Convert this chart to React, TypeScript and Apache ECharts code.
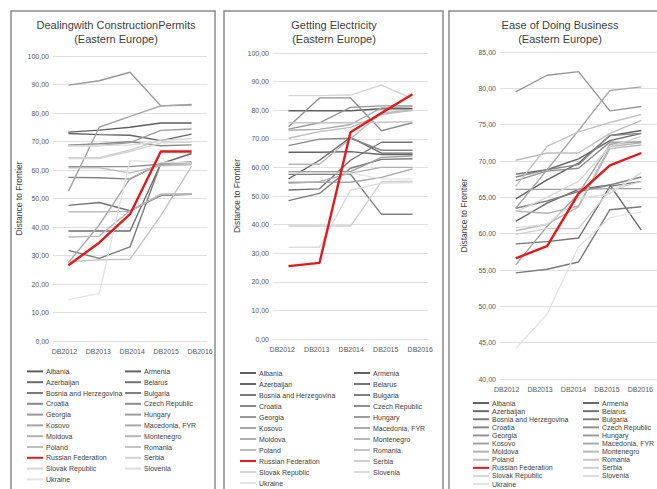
import React, { useEffect, useRef } from "react";
import * as echarts from "echarts";

const categories = ["DB2012", "DB2013", "DB2014", "DB2015", "DB2016"];

const countries = [
  "Albania", "Armenia", "Azerbaijan", "Belarus", "Bosnia and Herzegovina", "Bulgaria",
  "Croatia", "Czech Republic", "Georgia", "Hungary", "Kosovo", "Macedonia, FYR",
  "Moldova", "Montenegro", "Poland", "Romania", "Russian Federation", "Serbia",
  "Slovak Republic", "Slovenia", "Ukraine",
];

const panelTitles = [
  "Dealingwith ConstructionPermits\n(Eastern Europe)",
  "Getting Electricity\n(Eastern Europe)",
  "Ease of Doing Business\n(Eastern Europe)",
];

const yAxisName = "Distance to Frontier";

// Dealing with Construction Permits, one row per country (same order as countries)
const constructionPermits: number[][] = [
  [73.3, 74.0, 75.0, 76.5, 76.5],
  [72.8, 72.4, 72.2, 70.3, 72.6],
  [38.6, 38.6, 38.6, 62.2, 65.8],
  [47.6, 48.6, 45.7, 51.0, 51.5],
  [31.8, 29.0, 33.0, 62.3, 62.8],
  [57.4, 57.3, 56.8, 62.3, 62.5],
  [68.7, 69.2, 69.9, 68.5, 68.8],
  [61.2, 61.2, 61.2, 62.0, 62.3],
  [89.8, 91.3, 94.3, 82.5, 82.8],
  [68.6, 68.6, 69.6, 73.9, 74.4],
  [52.5, 75.0, 78.8, 82.5, 83.0],
  [27.5, 40.7, 57.0, 62.3, 62.5],
  [45.3, 45.3, 45.5, 51.5, 51.7],
  [36.5, 36.8, 45.8, 51.3, 51.6],
  [60.8, 60.8, 59.0, 61.5, 61.8],
  [27.8, 28.5, 28.7, 44.0, 61.4],
  [26.6, 34.5, 44.5, 66.5, 66.5],
  [64.3, 64.3, 67.0, 70.5, 71.0],
  [64.0, 64.0, 66.5, 69.5, 69.8],
  [68.4, 68.6, 68.8, 70.0, 70.0],
  [14.5, 16.7, 63.3, 62.8, 62.5],
];

// Getting Electricity
const gettingElectricity: number[][] = [
  [79.8, 79.8, 79.8, 80.5, 80.5],
  [65.3, 65.3, 65.5, 64.5, 64.5],
  [56.0, 62.5, 70.5, 65.0, 65.0],
  [52.1, 52.5, 62.5, 68.8, 68.8],
  [48.4, 50.9, 59.7, 62.8, 63.0],
  [57.6, 57.6, 57.6, 43.6, 43.6],
  [67.6, 69.9, 70.2, 66.0, 66.0],
  [74.2, 84.3, 84.3, 72.8, 75.6],
  [73.4, 75.6, 81.0, 81.5, 81.5],
  [58.5, 58.5, 58.5, 63.5, 64.0],
  [54.8, 54.8, 54.8, 56.5, 59.5],
  [73.0, 73.3, 75.0, 80.8, 81.2],
  [54.4, 55.0, 58.0, 60.0, 60.0],
  [61.1, 61.1, 70.0, 79.0, 80.0],
  [70.2, 72.5, 74.0, 78.5, 80.0],
  [75.6, 75.6, 75.6, 75.8, 76.0],
  [25.5, 26.6, 72.3, 79.0, 85.6],
  [39.5, 39.5, 39.5, 55.0, 55.2],
  [85.1, 85.1, 85.3, 88.8, 84.0],
  [32.1, 32.1, 52.0, 54.5, 54.7],
  [58.0, 58.0, 58.0, 56.0, 56.0],
];

// Ease of Doing Business
const easeOfDoingBusiness: number[][] = [
  [64.8, 67.4, 69.7, 73.5, 74.2],
  [68.2, 68.8, 70.3, 72.8, 73.8],
  [61.7, 64.2, 66.1, 66.7, 60.5],
  [58.6, 58.9, 59.4, 66.5, 67.2],
  [54.6, 55.1, 56.1, 63.3, 63.7],
  [63.5, 64.5, 65.8, 66.7, 67.8],
  [67.8, 68.8, 69.5, 73.5, 73.8],
  [67.3, 68.6, 69.0, 72.6, 72.6],
  [79.5, 81.8, 82.3, 76.9, 77.5],
  [66.1, 66.1, 66.1, 66.2, 66.2],
  [55.7, 61.0, 65.5, 72.3, 72.7],
  [63.5, 68.8, 74.2, 79.7, 80.2],
  [63.1, 62.8, 63.8, 72.0, 72.5],
  [60.4, 61.3, 63.7, 71.7, 72.2],
  [70.1, 71.1, 71.1, 73.8, 75.6],
  [66.5, 72.0, 74.0, 75.3, 76.4],
  [56.6, 58.3, 65.5, 69.4, 71.1],
  [59.9, 60.7, 60.7, 66.0, 67.2],
  [63.0, 65.0, 67.2, 72.0, 73.4],
  [60.8, 61.3, 64.8, 65.5, 68.4],
  [44.2, 48.9, 58.2, 62.2, 63.0],
];

const lineColors = [
  "#5f5f5f", "#656565", "#6b6b6b", "#737373", "#7a7a7a", "#818181",
  "#888888", "#8f8f8f", "#969696", "#9d9d9d", "#a4a4a4", "#aaaaaa",
  "#b1b1b1", "#b8b8b8", "#bebebe", "#c4c4c4", "#e3191b", "#cfcfcf",
  "#d6d6d6", "#dcdcdc", "#e3e3e3",
];

const FONT = "'Liberation Sans', Arial, sans-serif";

export default function App() {
  const ref = useRef<HTMLDivElement>(null);

  useEffect(() => {
    if (!ref.current) return;
    const chart = echarts.init(ref.current, null, { renderer: "svg" });

    const panels = [
      {
        data: constructionPermits,
        grid: { left: 53, top: 56, width: 154, height: 285 },
        labelGrid: { left: 47.5, width: 169.5 },
        min: 0, max: 100, interval: 10, nameGap: 29,
        titleX: 116,
        legendLeft: [27, 125], legendTop: 366, rowH: 10.8,
      },
      {
        data: gettingElectricity,
        grid: { left: 273, top: 53, width: 155, height: 286 },
        labelGrid: { left: 265, width: 172.5 },
        min: 0, max: 100, interval: 10, nameGap: 32,
        titleX: 334,
        legendLeft: [240, 354], legendTop: 367.5, rowH: 11,
      },
      {
        data: easeOfDoingBusiness,
        grid: { left: 500, top: 52, width: 158, height: 327 },
        labelGrid: { left: 490, width: 175 },
        min: 40, max: 85, interval: 5, nameGap: 32,
        titleX: 560,
        legendLeft: [473, 583], legendTop: 399, rowH: 8.1,
      },
    ];

    const fmt = (v: number) => v.toFixed(2).replace(".", ",");
    const leftCol = countries.filter((_, i) => i % 2 === 0);
    const rightCol = countries.filter((_, i) => i % 2 === 1);

    const series: any[] = [];
    panels.forEach((p, pi) => {
      countries.forEach((c, ci) => {
        const isRed = c === "Russian Federation";
        series.push({
          type: "line",
          name: c,
          xAxisIndex: pi,
          yAxisIndex: pi,
          data: p.data[ci],
          symbol: "none",
          showSymbol: false,
          z: isRed ? 3 : 2,
          lineStyle: { color: lineColors[ci], width: isRed ? 2.4 : 1.4 },
          itemStyle: { color: lineColors[ci] },
          emphasis: { disabled: true },
        });
      });
    });

    const legends: any[] = [];
    panels.forEach((p) => {
      [leftCol, rightCol].forEach((names, k) => {
        legends.push({
          orient: "vertical",
          left: p.legendLeft[k],
          top: p.legendTop,
          data: names.map((n) => ({ name: n, icon: "rect" })),
          itemGap: 0,
          itemWidth: 16,
          itemHeight: 2,
          padding: 0,
          selectedMode: false,
          textStyle: {
            fontSize: 7,
            lineHeight: p.rowH,
            color: "#404040",
            fontFamily: FONT,
            padding: [0, 0, 0, -2],
          },
        });
      });
    });

    // data grids (0..2) followed by label-only grids (3..5)
    const grids = [
      ...panels.map((p) => ({ ...p.grid, containLabel: false })),
      ...panels.map((p) => ({
        left: p.labelGrid.left,
        width: p.labelGrid.width,
        top: p.grid.top,
        height: p.grid.height,
        containLabel: false,
      })),
    ];

    const xAxes = [
      ...panels.map((_, i) => ({
        type: "category",
        gridIndex: i,
        data: categories,
        boundaryGap: true,
        axisLine: { show: false },
        axisTick: { show: false },
        axisLabel: { show: false },
      })),
      ...panels.map((_, i) => ({
        type: "category",
        gridIndex: i + 3,
        data: categories,
        boundaryGap: true,
        axisLine: { show: false },
        axisTick: { show: false },
        splitLine: { show: false },
        axisLabel: { interval: 0, fontSize: 7, color: "#595959", margin: 7, fontFamily: FONT },
      })),
    ];

    const yAxes = [
      ...panels.map((p, i) => ({
        type: "value",
        gridIndex: i,
        min: p.min,
        max: p.max,
        interval: p.interval,
        name: yAxisName,
        nameLocation: "middle",
        nameRotate: 90,
        nameGap: p.nameGap,
        nameTextStyle: { fontSize: 8.5, color: "#404040", fontFamily: FONT },
        axisLine: { show: false },
        axisTick: { show: false },
        axisLabel: {
          fontSize: 7,
          color: "#595959",
          margin: 4,
          fontFamily: FONT,
          formatter: fmt,
        },
        splitLine: { show: true, lineStyle: { color: "#e0e0e0", width: 1 } },
      })),
      ...panels.map((p, i) => ({
        type: "value",
        gridIndex: i + 3,
        min: p.min,
        max: p.max,
        show: false,
        splitLine: { show: false },
      })),
    ];

    chart.setOption({
      animation: false,
      textStyle: { fontFamily: FONT },
      title: panels.map((p, i) => ({
        text: panelTitles[i],
        left: p.titleX,
        top: 18,
        textAlign: "center",
        padding: 0,
        textStyle: {
          fontSize: 11,
          fontWeight: "normal",
          color: "#404040",
          lineHeight: 14,
          fontFamily: FONT,
        },
      })),
      grid: grids,
      xAxis: xAxes,
      yAxis: yAxes,
      legend: legends,
      graphic: [
        {
          type: "rect",
          shape: { x: 11, y: 11, width: 204, height: 500 },
          style: { fill: "none", stroke: "#8a8a8a", lineWidth: 1.5 },
          silent: true,
        },
        {
          type: "rect",
          shape: { x: 224, y: 11, width: 219, height: 500 },
          style: { fill: "none", stroke: "#8a8a8a", lineWidth: 1.5 },
          silent: true,
        },
        {
          type: "rect",
          shape: { x: 449, y: 11, width: 230, height: 500 },
          style: { fill: "none", stroke: "#8a8a8a", lineWidth: 1.5 },
          silent: true,
        },
      ],
      series,
    });

    return () => chart.dispose();
  }, []);

  return (
    <div
      ref={ref}
      style={{ position: "fixed", left: 0, top: 0, width: 657, height: 489, background: "#fff" }}
    />
  );
}
